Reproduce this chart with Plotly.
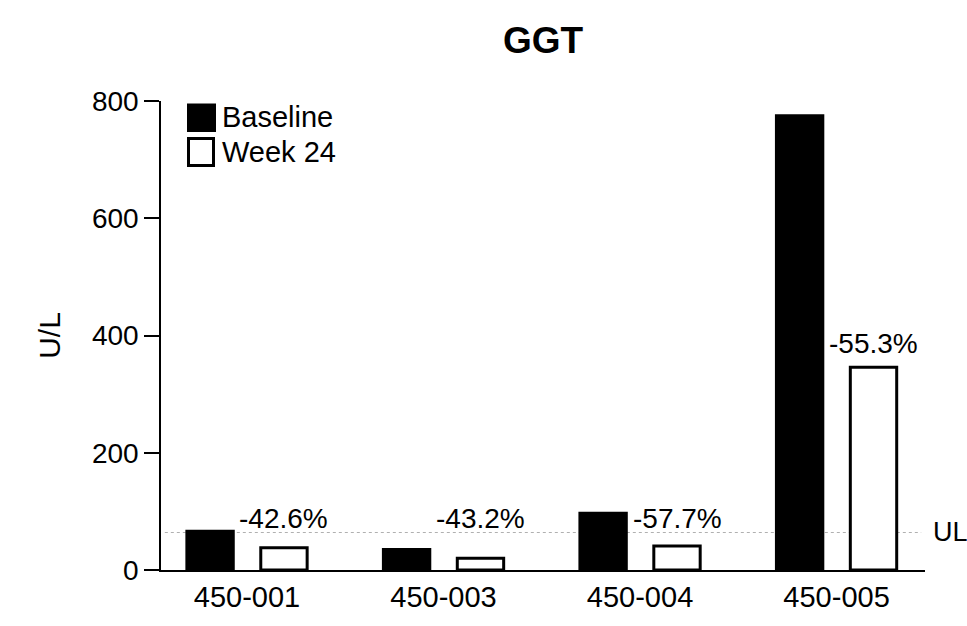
import plotly.graph_objects as go

# GGT per subject: baseline vs week 24 (U/L)
subjects = ["450-001", "450-003", "450-004", "450-005"]
baseline = [66, 35, 97, 775]
week24 = [38, 20, 41, 346]
pct_change = ["-42.6%", "-43.2%", "-57.7%", "-55.3%"]
upper_limit = 64
y_ticks = [0, 200, 400, 600, 800]

FONT = "Liberation Sans, Arial, Helvetica, sans-serif"
W, H = 967, 626
ML, MR, MT, MB = 161, 42, 101, 56
plot_w = W - ML - MR
plot_h = H - MT - MB


def px_to_paper_x(px):
    return (px - ML) / plot_w


def px_to_paper_y(py):
    return (H - MB - py) / plot_h


bar_w = 0.236
fig = go.Figure()
fig.add_trace(go.Bar(
    x=subjects, y=baseline, name="Baseline",
    width=bar_w, offset=-0.188 - bar_w / 2,
    marker=dict(color="black", line=dict(color="black", width=3)),
    showlegend=False,
))
fig.add_trace(go.Bar(
    x=subjects, y=week24, name="Week 24",
    width=bar_w, offset=0.188 - bar_w / 2,
    marker=dict(color="white", line=dict(color="black", width=3)),
    showlegend=False,
))

# upper limit reference line
fig.add_shape(type="line", xref="paper", yref="y", x0=0.005, x1=0.995,
              y0=upper_limit, y1=upper_limit, layer="below",
              line=dict(color="#b0b0b0", width=1.2, dash="dot"))
fig.add_annotation(xref="paper", yref="y", x=1, y=upper_limit, xanchor="left",
                   yanchor="middle", xshift=6, text="UL", showarrow=False,
                   font=dict(family=FONT, size=27, color="black"))

# percent change labels above the week 24 bars
for i, (s, w, lab) in enumerate(zip(subjects, week24, pct_change)):
    above_bar = w > upper_limit
    fig.add_annotation(
        x=i + 0.188, y=max(w, upper_limit), xref="x", yref="y",
        text=lab, showarrow=False, xanchor="center", yanchor="middle",
        yshift=24 if above_bar else 14,
        font=dict(family=FONT, size=28, color="black"),
    )

# legend
fig.add_shape(type="rect", xref="paper", yref="paper",
              x0=px_to_paper_x(187), x1=px_to_paper_x(216),
              y0=px_to_paper_y(132), y1=px_to_paper_y(103.5),
              fillcolor="black", line=dict(width=0))
fig.add_shape(type="rect", xref="paper", yref="paper",
              x0=px_to_paper_x(188.5), x1=px_to_paper_x(213.5),
              y0=px_to_paper_y(165.5), y1=px_to_paper_y(138.5),
              fillcolor="white", line=dict(color="black", width=3))
for label, cy in (("Baseline", 117), ("Week 24", 152)):
    fig.add_annotation(xref="paper", yref="paper", x=px_to_paper_x(220),
                       y=px_to_paper_y(cy), xanchor="left", yanchor="middle",
                       text=label, showarrow=False,
                       font=dict(family=FONT, size=29, color="black"))

fig.update_layout(
    width=W, height=H,
    margin=dict(l=ML, r=MR, t=MT, b=MB, pad=0),
    paper_bgcolor="white", plot_bgcolor="white",
    barmode="overlay",
    title=dict(text="<b>GGT</b>", x=(ML + plot_w / 2) / W, xanchor="center",
               y=1 - 40 / H, yanchor="middle",
               font=dict(family=FONT, size=37, color="black")),
    font=dict(family=FONT, size=29, color="black"),
    xaxis=dict(
        range=[-0.4377, 3.45], showline=True, linecolor="black", linewidth=1.5,
        ticks="", showgrid=False, zeroline=False,
        tickfont=dict(family=FONT, size=29, color="black"),
    ),
    yaxis=dict(
        range=[0, 800], tickvals=y_ticks, showline=True, linecolor="black",
        linewidth=1.5, ticks="outside", ticklen=15, tickwidth=1.5,
        tickcolor="black", showgrid=False, zeroline=False,
        tickfont=dict(family=FONT, size=28, color="black"),
        title=dict(text="U/L", standoff=22,
                   font=dict(family=FONT, size=30, color="black")),
    ),
)

fig.write_html("out.html")
